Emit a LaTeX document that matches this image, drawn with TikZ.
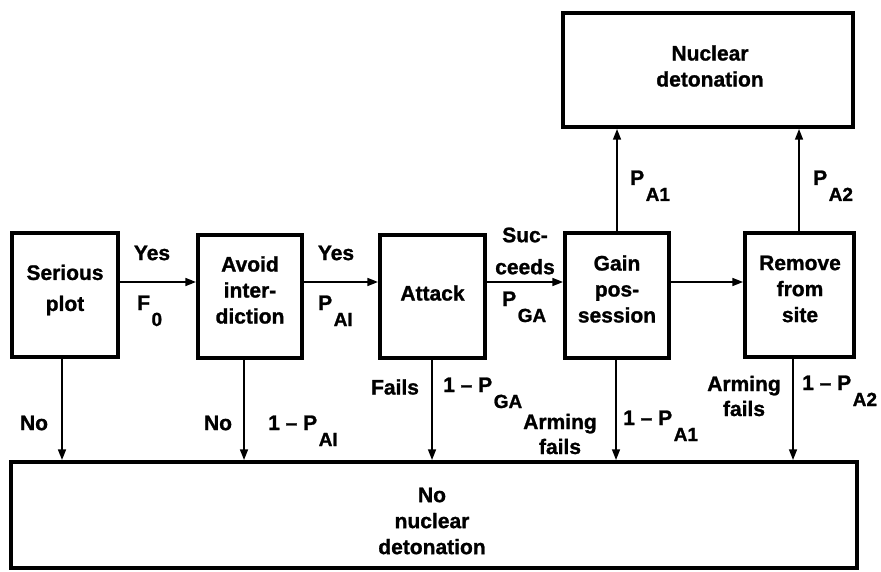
\documentclass[tikz,border=0pt]{standalone}
\usepackage{fontspec}
\setmainfont{Liberation Sans}[BoldFeatures={FakeBold=1.2}]
\usetikzlibrary{arrows.meta}
\newcommand\lblfont{\fontsize{21}{26}\bfseries\selectfont}
\newcommand\sbs[1]{\kern1.5pt\raisebox{-16pt}{\fontsize{19}{19}\bfseries\selectfont #1}}
\begin{document}
\begin{tikzpicture}[x=1pt,y=-1pt,
  box/.style={draw, line width=3.2pt, inner sep=0pt},
  arr/.style={line width=2.6pt, -{Triangle[length=11pt,width=7.5pt]}},
  tl/.style={font=\lblfont, inner sep=0pt, align=center}]
\useasboundingbox[fill=white] (0,0) rectangle (881,572);
% boxes
\node[box, minimum width=106pt, minimum height=124pt] (SP) at (65,295) {};
\node[box, minimum width=104pt, minimum height=123pt] (AI) at (250,296.5) {};
\node[box, minimum width=105pt, minimum height=123pt] (AT) at (432.5,296.5) {};
\node[box, minimum width=104pt, minimum height=125pt] (GP) at (617,295.5) {};
\node[box, minimum width=109pt, minimum height=124pt] (RS) at (799.5,295) {};
\node[box, minimum width=290pt, minimum height=114pt] (ND) at (708,70) {};
\node[box, minimum width=846pt, minimum height=106pt] (NN) at (434,515) {};
% box texts
\node[tl] (SPt) at (65,290) {Serious\\[5pt]plot};
\node[tl] (AIt) at (250,290) {Avoid\\inter-\\diction};
\node[tl] (ATt) at (432.5,293) {Attack};
\node[tl] (GPt) at (617,289) {Gain\\pos-\\session};
\node[tl] (RSt) at (800,289) {Remove\\from\\site};
\node[tl] (NDt) at (710,66) {Nuclear\\detonation};
\node[tl] (NNt) at (432,521) {No\\nuclear\\detonation};
% horizontal arrows
\draw[arr] (SP.east |- 0,282) -- (AI.west |- 0,282);
\draw[arr] (AI.east |- 0,282) -- (AT.west |- 0,282);
\draw[arr] (AT.east |- 0,282) -- (GP.west |- 0,282);
\draw[arr] (GP.east |- 0,282) -- (RS.west |- 0,282);
% up arrows
\draw[arr] (GP.north -| 617,0) -- (ND.south -| 617,0);
\draw[arr] (RS.north -| 799,0) -- (ND.south -| 799,0);
% down arrows
\draw[arr] (SP.south -| 62,0) -- (NN.north -| 62,0);
\draw[arr] (AI.south -| 244,0) -- (NN.north -| 244,0);
\draw[arr] (AT.south -| 432,0) -- (NN.north -| 432,0);
\draw[arr] (GP.south -| 616,0) -- (NN.north -| 616,0);
\draw[arr] (RS.south -| 793,0) -- (NN.north -| 793,0);
% labels
\node[tl] (y1) at (152,253) {Yes};
\node[tl, anchor=base west] (f0) at (137,310) {F\sbs{0}};
\node[tl] (y2) at (336,253) {Yes};
\node[tl, anchor=base west] (pai) at (318,310) {P\sbs{AI}};
\node[tl] (suc) at (525,251) {Suc-\\[6pt]ceeds};
\node[tl, anchor=base west] (pga) at (502,306) {P\sbs{GA}};
\node[tl, anchor=base west] (pa1) at (630,185) {P\sbs{A1}};
\node[tl, anchor=base west] (pa2) at (813,185) {P\sbs{A2}};
\node[tl] (no1) at (34,423) {No};
\node[tl] (no2) at (218,423) {No};
\node[tl, anchor=base west] (qai) at (268,430) {1 – P\sbs{AI}};
\node[tl] (fl) at (395,387) {Fails};
\node[tl, anchor=base west] (qga) at (443,392) {1 – P\sbs{GA}};
\node[tl, font=\fontsize{21}{25}\bfseries\selectfont] (af1) at (560,434) {Arming\\fails};
\node[tl, anchor=base west] (qa1) at (623,425) {1 – P\sbs{A1}};
\node[tl, font=\fontsize{21}{25}\bfseries\selectfont] (af2) at (744,396) {Arming\\fails};
\node[tl, anchor=base west] (qa2) at (802,390) {1 – P\sbs{A2}};
\end{tikzpicture}
\end{document}
